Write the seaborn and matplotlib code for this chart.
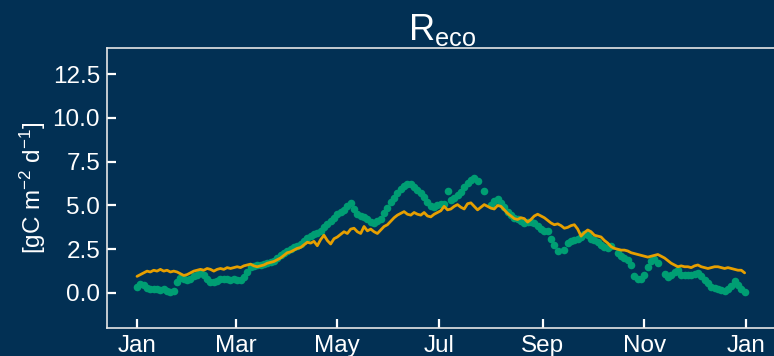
import numpy as np
import pandas as pd
import matplotlib
matplotlib.use("Agg")
import matplotlib.pyplot as plt
import matplotlib.dates as mdates
import seaborn as sns

# Ecosystem respiration, one value every second day through 2021
start_date = "2021-01-01"
step_days = 2

# modelled Reco (line)
reco_model = [
    0.95, 1.05, 1.15, 1.25, 1.20, 1.30, 1.25, 1.35, 1.25, 1.30,
    1.20, 1.25, 1.20, 1.10, 1.00, 1.05, 1.15, 1.25, 1.30, 1.35,
    1.30, 1.40, 1.35, 1.25, 1.35, 1.40, 1.35, 1.45, 1.40, 1.45,
    1.50, 1.45, 1.55, 1.60, 1.65, 1.55, 1.50, 1.55, 1.60, 1.70,
    1.75, 1.80, 1.90, 2.00, 2.15, 2.30, 2.35, 2.45, 2.55, 2.60,
    2.75, 2.90, 2.85, 2.95, 2.70, 3.05, 3.30, 3.00, 2.80, 3.10,
    3.20, 3.35, 3.50, 3.40, 3.65, 3.70, 3.50, 3.40, 3.80, 3.55,
    3.65, 3.50, 3.40, 3.60, 3.80, 3.90, 4.10, 4.30, 4.45, 4.55,
    4.65, 4.50, 4.45, 4.60, 4.50, 4.45, 4.60, 4.40, 4.35, 4.50,
    4.60, 4.70, 4.95, 4.75, 4.80, 4.95, 5.05, 4.90, 4.80, 5.10,
    5.15, 4.95, 4.75, 4.90, 5.05, 4.95, 4.85, 4.80, 5.00, 4.95,
    4.75, 4.55, 4.40, 4.25, 4.20, 4.30, 4.25, 4.05, 4.20, 4.40,
    4.50, 4.40, 4.30, 4.15, 4.00, 3.90, 3.95, 3.85, 3.70, 3.75,
    3.85, 3.90, 3.65, 3.25, 3.45, 3.60, 3.50, 3.30, 3.25, 3.20,
    3.00, 2.85, 2.65, 2.55, 2.50, 2.45, 2.45, 2.40, 2.30, 2.25,
    2.20, 2.15, 2.10, 2.05, 2.10, 2.15, 2.20, 2.10, 2.00, 1.85,
    1.70, 1.60, 1.50, 1.55, 1.50, 1.50, 1.45, 1.55, 1.60, 1.50,
    1.45, 1.40, 1.45, 1.50, 1.50, 1.45, 1.40, 1.45, 1.40, 1.35,
    1.30, 1.30, 1.15,
]

# observed Reco (points, NaN = missing day)
nan = np.nan
reco_obs = [
    0.36, 0.50, 0.45, 0.30, 0.22, 0.20, 0.22, 0.18, 0.20, 0.12,
    0.07, 0.12, 0.60, 0.86, 0.80, 0.72, 0.80, 0.95, 1.05, 1.14,
    1.00, 0.80, 0.62, 0.60, 0.68, 0.78, 0.82, 0.78, 0.75, 0.78,
    0.76, 0.74, 0.90, 1.20, 1.50, 1.55, 1.60, 1.62, 1.65, 1.70,
    1.75, 1.85, 2.00, 2.15, 2.30, 2.40, 2.50, 2.60, 2.70, 2.80,
    2.95, 3.15, 3.25, 3.35, 3.45, 3.55, 3.75, 3.95, 4.10, 4.30,
    4.50, 4.60, 4.75, 4.95, 5.13, 4.80, 4.50, 4.40, 4.35, 4.20,
    4.05, 4.00, 4.10, 4.25, 4.55, 4.85, 5.20, 5.45, 5.70, 5.95,
    6.10, 6.25, 6.20, 6.05, 5.90, 5.70, 5.50, 5.20, 4.95, 4.90,
    5.00, 5.10, 5.10, 5.80, 5.30, 5.40, 5.60, 5.75, 6.05, 6.30,
    6.45, 6.55, 6.40, nan, 5.85, nan, 5.05, 5.25, 5.35, 5.15,
    4.90, 4.60, 4.45, 4.30, 4.20, 4.10, 4.00, 4.05, 4.05, 4.00,
    3.80, 3.65, 3.55, 3.55, 3.10, 2.75, 2.40, nan, 2.45, 2.85,
    2.95, 3.00, 3.10, 3.20, 3.35, 3.30, 3.10, 3.00, 2.90, 2.75,
    2.60, 2.55, 2.70, nan, 2.30, 2.10, 2.00, 1.90, 1.60, 0.95,
    0.78, 0.80, 1.05, 1.50, 1.85, 1.95, 1.70, nan, 1.10, 0.93,
    1.00, 1.20, 1.30, 1.05, 1.00, 1.05, 1.03, 1.08, 1.12, 0.95,
    0.74, 0.55, 0.36, 0.28, 0.21, 0.15, 0.10, 0.20, 0.40, 0.70,
    0.45, 0.20, 0.08,
]

month_ticks = [1, 3, 5, 7, 9, 11]
title_text = r"R$_{\mathrm{eco}}$"
ylabel_text = r"[gC m$^{-2}$ d$^{-1}$]"

dates = pd.date_range(start_date, periods=len(reco_model), freq=f"{step_days}D")
df = pd.DataFrame({"date": dates, "model": reco_model, "obs": reco_obs})

bg = "#023054"
fg = "white"
green = "#009E73"
orange = "#E69F00"

sns.set_theme(style="ticks")
plt.rcParams["font.family"] = ["Liberation Sans", "DejaVu Sans"]
plt.rcParams["mathtext.fontset"] = "custom"
plt.rcParams["mathtext.rm"] = "Liberation Sans"
plt.rcParams["mathtext.it"] = "Liberation Sans"

fig = plt.figure(figsize=(7.74, 3.56), dpi=100, facecolor=bg)
ax = fig.add_axes([0.1382, 0.0787, 0.867, 0.7865], facecolor=bg)

sns.scatterplot(data=df, x="date", y="obs", ax=ax, color=green, s=30,
                linewidth=0, zorder=2, legend=False)
sns.lineplot(data=df, x="date", y="model", ax=ax, color=orange, lw=2.0,
             zorder=3, legend=False)

ax.set_ylim(-2, 14)
ax.set_yticks([0, 2.5, 5, 7.5, 10, 12.5])
ax.yaxis.set_major_formatter(matplotlib.ticker.FormatStrFormatter("%.1f"))
ax.set_xlim(pd.Timestamp("2020-12-14"), pd.Timestamp("2022-01-20"))
ax.xaxis.set_major_locator(mdates.MonthLocator(bymonth=month_ticks))
ax.xaxis.set_major_formatter(mdates.DateFormatter("%b"))

ax.tick_params(axis="both", direction="in", length=6.5, width=1.6,
               color=fg, labelcolor=fg, labelsize=17.5, pad=5)
for side in ["left", "top", "bottom", "right"]:
    ax.spines[side].set_color("#e6e6e6")
    ax.spines[side].set_linewidth(1.2)

ax.set_xlabel("")
ax.set_ylabel(ylabel_text, color=fg, fontsize=17.5, labelpad=3)
ax.set_title(title_text, color=fg, fontsize=26, pad=-1)

fig.savefig("out.png", dpi=100, facecolor=bg)
